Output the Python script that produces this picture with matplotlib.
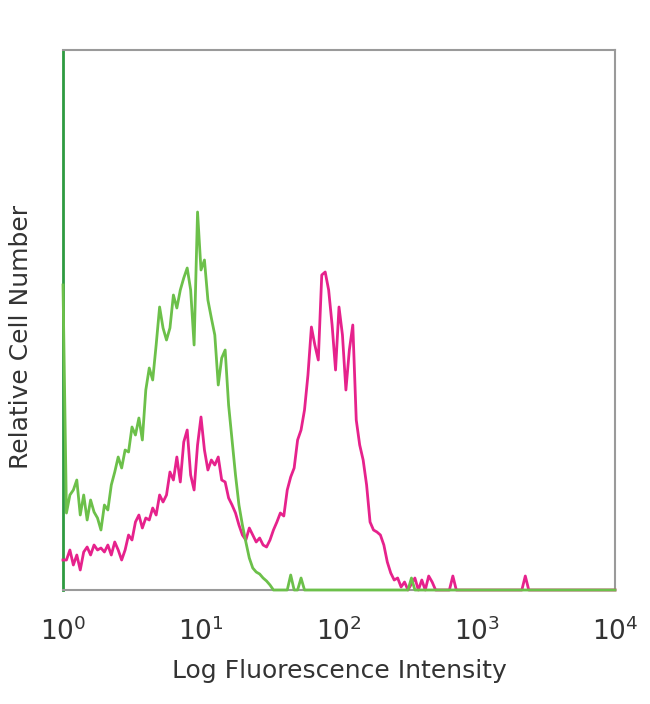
import numpy as np
import matplotlib.pyplot as plt

# histogram channels, evenly spaced in log10 decades
decade_start = 0.0
decade_step = 0.025

# counts per channel (relative)
green_counts = [
    305, 77, 95, 100, 110, 75, 95, 70, 90, 78,
    72, 60, 85, 80, 105, 118, 133, 122, 140, 138,
    163, 155, 172, 150, 200, 222, 210, 245, 283, 262,
    250, 262, 295, 282, 300, 312, 322, 300, 245, 378,
    320, 330, 290, 272, 255, 205, 232, 240, 185, 150,
    115, 85, 65, 48, 32, 22, 18, 16, 12, 9,
    5, 0, 0, 0, 0, 0, 15, 0, 0, 12,
    0, 0, 0, 0, 0, 0, 0, 0, 0, 0,
    0, 0, 0, 0, 0, 0, 0, 0, 0, 0,
    0, 0, 0, 0, 0, 0, 0, 0, 0, 0,
    0, 12, 0, 0, 0, 0, 0, 0, 0, 0,
    0, 0, 0, 0, 0, 0, 0, 0, 0, 0,
    0, 0, 0, 0, 0, 0, 0, 0, 0, 0,
    0, 0, 0, 0, 0, 0, 0, 0, 0, 0,
    0, 0, 0, 0, 0, 0, 0, 0, 0, 0,
    0, 0, 0, 0, 0, 0, 0, 0, 0, 0, 0,
]

magenta_counts = [
    30, 30, 40, 25, 35, 20, 38, 43, 35, 45,
    40, 42, 38, 45, 35, 48, 40, 30, 40, 55,
    50, 68, 75, 62, 72, 70, 82, 75, 95, 88,
    95, 118, 110, 133, 108, 148, 160, 115, 100, 145,
    173, 140, 120, 130, 125, 133, 110, 108, 92, 85,
    77, 65, 55, 50, 62, 55, 48, 52, 45, 43,
    50, 60, 68, 77, 74, 100, 113, 122, 150, 160,
    180, 215, 263, 245, 230, 315, 318, 300, 265, 220,
    283, 255, 200, 240, 265, 170, 145, 130, 105, 68,
    60, 58, 55, 45, 28, 17, 10, 12, 3, 8,
    0, 6, 12, 0, 10, 0, 14, 8, 0, 0,
    0, 0, 0, 14, 0, 0, 0, 0, 0, 0,
    0, 0, 0, 0, 0, 0, 0, 0, 0, 0,
    0, 0, 0, 0, 14, 0, 0, 0, 0, 0,
    0, 0, 0, 0, 0, 0, 0, 0, 0, 0,
    0, 0, 0, 0, 0, 0, 0, 0, 0, 0, 0,
]

tick_decades = [0, 1, 2, 3, 4]
tick_labels = [r'$10^{0}$', r'$10^{1}$', r'$10^{2}$', r'$10^{3}$', r'$10^{4}$']

green_x = 10 ** (decade_start + decade_step * np.arange(len(green_counts)))
magenta_x = 10 ** (decade_start + decade_step * np.arange(len(magenta_counts)))

fig = plt.figure(figsize=(6.5, 7.04), dpi=100)
ax = fig.add_axes([63 / 650, 114 / 704, 552 / 650, 540 / 704])

# magenta under green
ax.plot(magenta_x, magenta_counts, color='#e6228c', lw=2,
        clip_on=False, zorder=3)
ax.plot(green_x, green_counts, color='#6cc04a', lw=2,
        clip_on=False, zorder=4)

ax.set_xscale('log')
ax.set_xlim(1, 10 ** 4)
ax.set_ylim(0, 540)

ax.set_xticks([10 ** d for d in tick_decades])
ax.set_xticklabels(tick_labels, fontsize=19, color='#333333')
ax.xaxis.set_minor_locator(plt.NullLocator())
ax.tick_params(axis='x', length=0, pad=20)
ax.set_yticks([])

for side in ['top', 'right', 'bottom']:
    ax.spines[side].set_color('#9a9a9a')
    ax.spines[side].set_linewidth(1.5)
ax.spines['left'].set_color('#2e9a40')
ax.spines['left'].set_linewidth(2)

ax.set_xlabel('Log Fluorescence Intensity', fontsize=18, color='#333333', labelpad=9)
ax.set_ylabel('Relative Cell Number', fontsize=18, color='#333333')
ax.yaxis.set_label_coords(-0.054, 0.468)

fig.savefig('out.png', dpi=100)
